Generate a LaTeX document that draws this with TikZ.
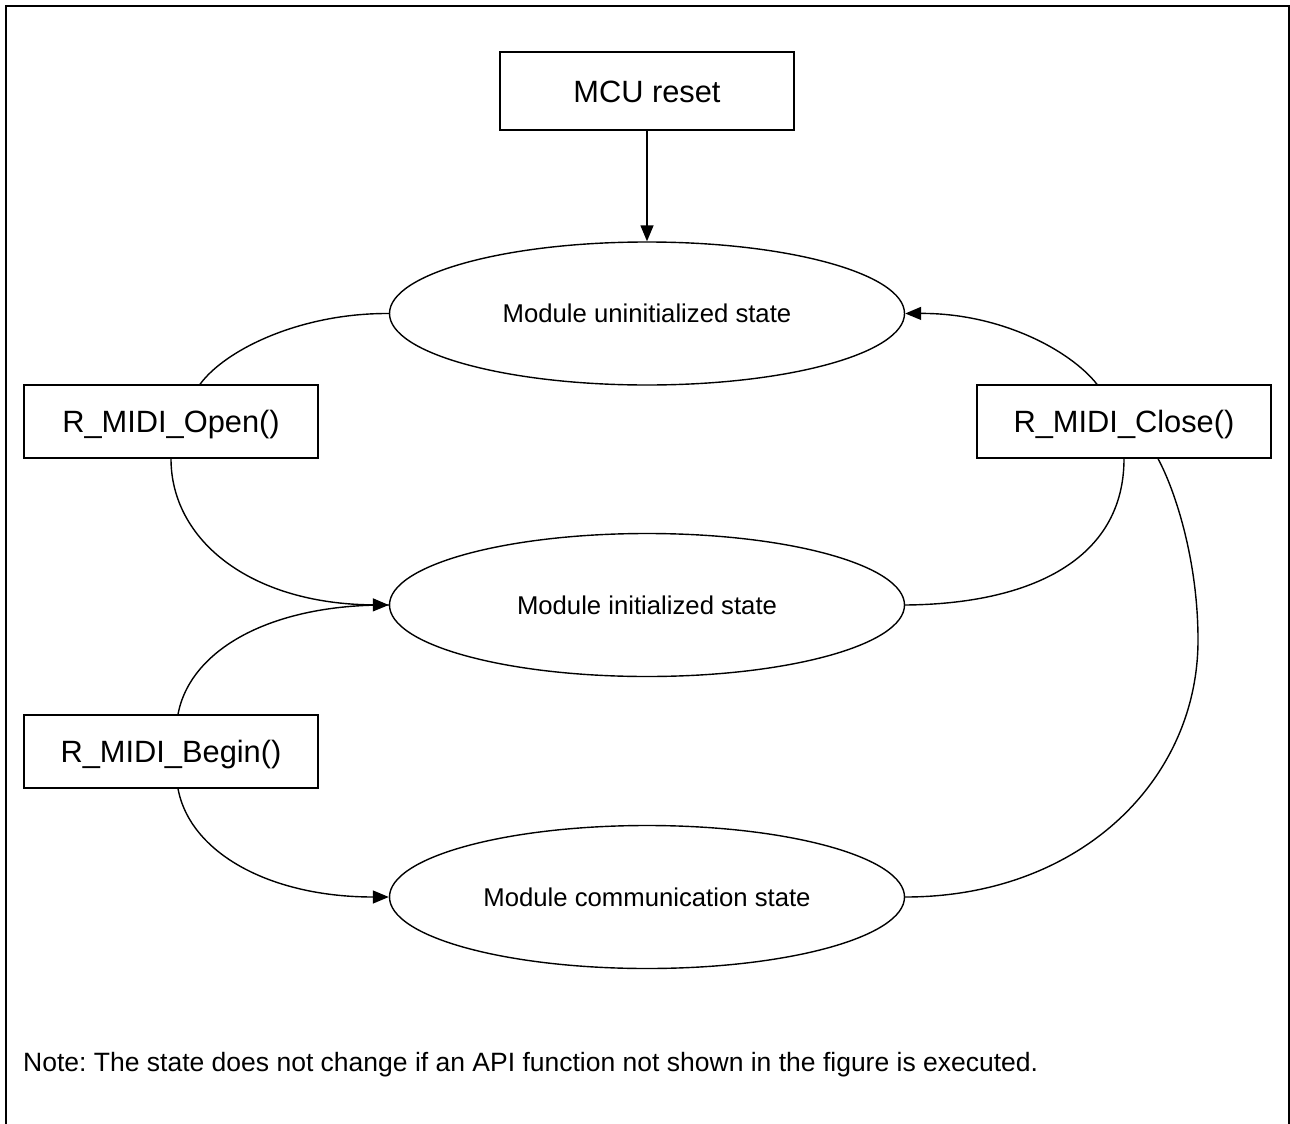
\documentclass[tikz,border=0pt]{standalone}
\usepackage{fontspec}
\setmainfont{Liberation Sans}
\usetikzlibrary{shapes.geometric,arrows.meta}
\frenchspacing
\tikzset{
  statebox/.style={draw, line width=1.4pt, rectangle, minimum width=294pt, minimum height=73pt,
    inner sep=0pt, font=\fontsize{30.8}{31}\selectfont, text height=22pt, text depth=0pt},
  stateell/.style={draw, ellipse, line width=1.4pt, minimum width=515pt, minimum height=143pt,
    inner sep=0pt, font=\fontsize{25.7}{26}\selectfont},
  conn/.style={line width=1.4pt},
  arr/.style={conn, -{Triangle[length=16pt,width=13pt]}},
  frame/.style={line width=2pt}
}
\begin{document}
\begin{tikzpicture}[x=1pt,y=-1pt]
\useasboundingbox (0,0) rectangle (1290,1124);
\draw[frame] (6,1130) -- (6,6) -- (1289,6) -- (1289,1130);

\node[statebox, minimum height=78pt] (mcu) at (647,91) {MCU reset};
\node[stateell] (s1) at (647,313.5) {Module uninitialized state};
\node[stateell] (s2) at (647,605) {Module initialized state};
\node[stateell] (s3) at (647,897) {Module communication state};
\node[statebox] (opn) at (171,421.5) {R\_MIDI\_Open()};
\node[statebox] (cls) at (1124,421.5) {R\_MIDI\_Close()};
\node[statebox] (bgn) at (171,751.5) {R\_MIDI\_Begin()};

\node[anchor=base west, inner sep=0pt, font=\fontsize{26.5}{27}\selectfont] (note) at (23,1071.5)
  {Note: The state does not change if an API function not shown in the figure is executed.};

\draw[arr] (mcu.south) -- (s1.north);
\draw[conn] (s1.west) .. controls (300,313) and (225,350) .. ([xshift=29pt]opn.north);
\draw[arr] (opn.south) .. controls (171,540) and (250,604) .. (s2.west);
\draw[conn] ([xshift=7pt]bgn.north) .. controls (190,650) and (270,604) .. (s2.west);
\draw[arr] ([xshift=7pt]bgn.south) .. controls (190,853) and (270,897) .. (s3.west);
\draw[conn] (s2.east) .. controls (1030,604) and (1124,560) .. (cls.south);
\draw[conn] (s3.east) .. controls (1080,897) and (1198,780) .. (1198,640)
  .. controls (1198,560) and (1175,490) .. ([xshift=34pt]cls.south);
\draw[arr] ([xshift=-27pt]cls.north) .. controls (1070,350) and (1000,313) .. (s1.east);
\end{tikzpicture}
\end{document}
